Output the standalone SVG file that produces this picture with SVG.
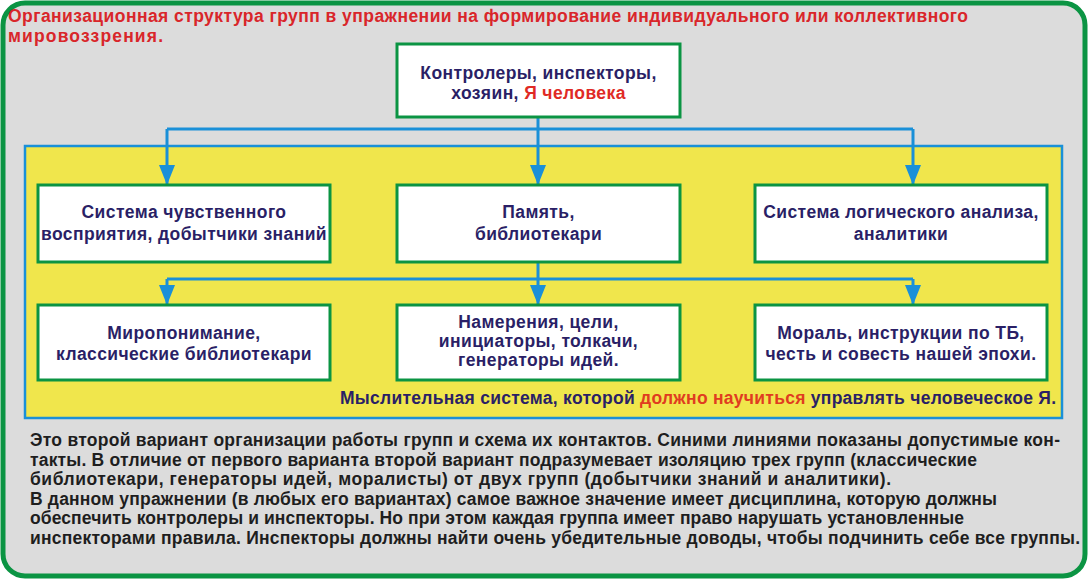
<svg xmlns="http://www.w3.org/2000/svg" width="1088" height="580" viewBox="0 0 1088 580">
<style>
text{font-family:"Liberation Sans",Arial,sans-serif;font-weight:bold;font-size:17.5px}
.title{fill:#d9262a}
.nt{fill:#2a1f66;text-anchor:middle;letter-spacing:0.4px}
.red{fill:#e02a25}
.para{fill:#1e1e1e}
.box{fill:#ffffff;stroke:#0b9443;stroke-width:3}
.con{fill:none;stroke:#1a90d8;stroke-width:3}
</style>
<defs>
<marker id="arr" markerUnits="userSpaceOnUse" markerWidth="20" markerHeight="16" refX="20" refY="8" orient="auto" viewBox="0 0 20 16">
<path d="M0,0 L20,8 L0,16 Z" fill="#1a90d8"/>
</marker>
</defs>
<rect x="3" y="3" width="1082" height="573" rx="22" fill="#dcdcdc" stroke="#0b9443" stroke-width="5"/>
<text class="title" x="8" y="22" textLength="960" lengthAdjust="spacing">Организационная структура групп в упражнении на формирование индивидуального или коллективного</text>
<text class="title" x="8" y="42" textLength="155" lengthAdjust="spacing">мировоззрения.</text>
<rect x="25" y="146" width="1037" height="272" fill="#f0e64c" stroke="#1a90d8" stroke-width="2.5"/>
<g id="connectors">
<path class="con" d="M538,117 V129 M167,129 H913"/>
<path class="con" d="M538,129 V185" marker-end="url(#arr)"/>
<path class="con" d="M167,129 V185" marker-end="url(#arr)"/>
<path class="con" d="M913,129 V185" marker-end="url(#arr)"/>
<path class="con" d="M538,262 V279 M167,279 H913"/>
<path class="con" d="M538,279 V305" marker-end="url(#arr)"/>
<path class="con" d="M167,279 V305" marker-end="url(#arr)"/>
<path class="con" d="M913,279 V305" marker-end="url(#arr)"/>
</g>
<g id="top">
<rect class="box" x="397" y="44" width="283" height="73"/>
<text class="nt" x="538.5" y="79">Контролеры, инспекторы,</text>
<text class="nt" x="538.5" y="99">хозяин, <tspan class="red">Я человека</tspan></text>
</g>
<g id="senses">
<rect class="box" x="38" y="185" width="292" height="77"/>
<text class="nt" x="184" y="218">Система чувственного</text>
<text class="nt" x="184" y="240">восприятия, добытчики знаний</text>
</g>
<g id="memory">
<rect class="box" x="397" y="185" width="283" height="77"/>
<text class="nt" x="538.5" y="218">Память,</text>
<text class="nt" x="538.5" y="240">библиотекари</text>
</g>
<g id="logic">
<rect class="box" x="755" y="185" width="292" height="77"/>
<text class="nt" x="901" y="218">Система логического анализа,</text>
<text class="nt" x="901" y="240">аналитики</text>
</g>
<g id="worldview">
<rect class="box" x="38" y="305" width="292" height="75"/>
<text class="nt" x="184" y="339">Миропонимание,</text>
<text class="nt" x="184" y="360">классические библиотекари</text>
</g>
<g id="intentions">
<rect class="box" x="397" y="305" width="283" height="75"/>
<text class="nt" x="538.5" y="328">Намерения, цели,</text>
<text class="nt" x="538.5" y="347">инициаторы, толкачи,</text>
<text class="nt" x="538.5" y="366">генераторы идей.</text>
</g>
<g id="morals">
<rect class="box" x="755" y="305" width="292" height="75"/>
<text class="nt" x="901" y="339">Мораль, инструкции по ТБ,</text>
<text class="nt" x="901" y="360">честь и совесть нашей эпохи.</text>
</g>
<text x="340" y="404" fill="#2a1f66" textLength="716" lengthAdjust="spacing">Мыслительная система, которой <tspan fill="#e03c20">должно научиться</tspan> управлять человеческое Я.</text>
<g class="para">
<text class="para" x="30" y="446" textLength="1030" lengthAdjust="spacing">Это второй вариант организации работы групп и схема их контактов. Синими линиями показаны допустимые кон-</text>
<text class="para" x="30" y="466" textLength="947" lengthAdjust="spacing">такты. В отличие от первого варианта второй вариант подразумевает изоляцию трех групп (классические</text>
<text class="para" x="30" y="485" textLength="861" lengthAdjust="spacing">библиотекари, генераторы идей, моралисты) от двух групп (добытчики знаний и аналитики).</text>
<text class="para" x="30" y="505" textLength="967" lengthAdjust="spacing">В данном упражнении (в любых его вариантах) самое важное значение имеет дисциплина, которую должны</text>
<text class="para" x="30" y="524" textLength="934" lengthAdjust="spacing">обеспечить контролеры и инспекторы. Но при этом каждая группа имеет право нарушать установленные</text>
<text class="para" x="30" y="544" textLength="1050" lengthAdjust="spacing">инспекторами правила. Инспекторы должны найти очень убедительные доводы, чтобы подчинить себе все группы.</text>
</g>
</svg>
